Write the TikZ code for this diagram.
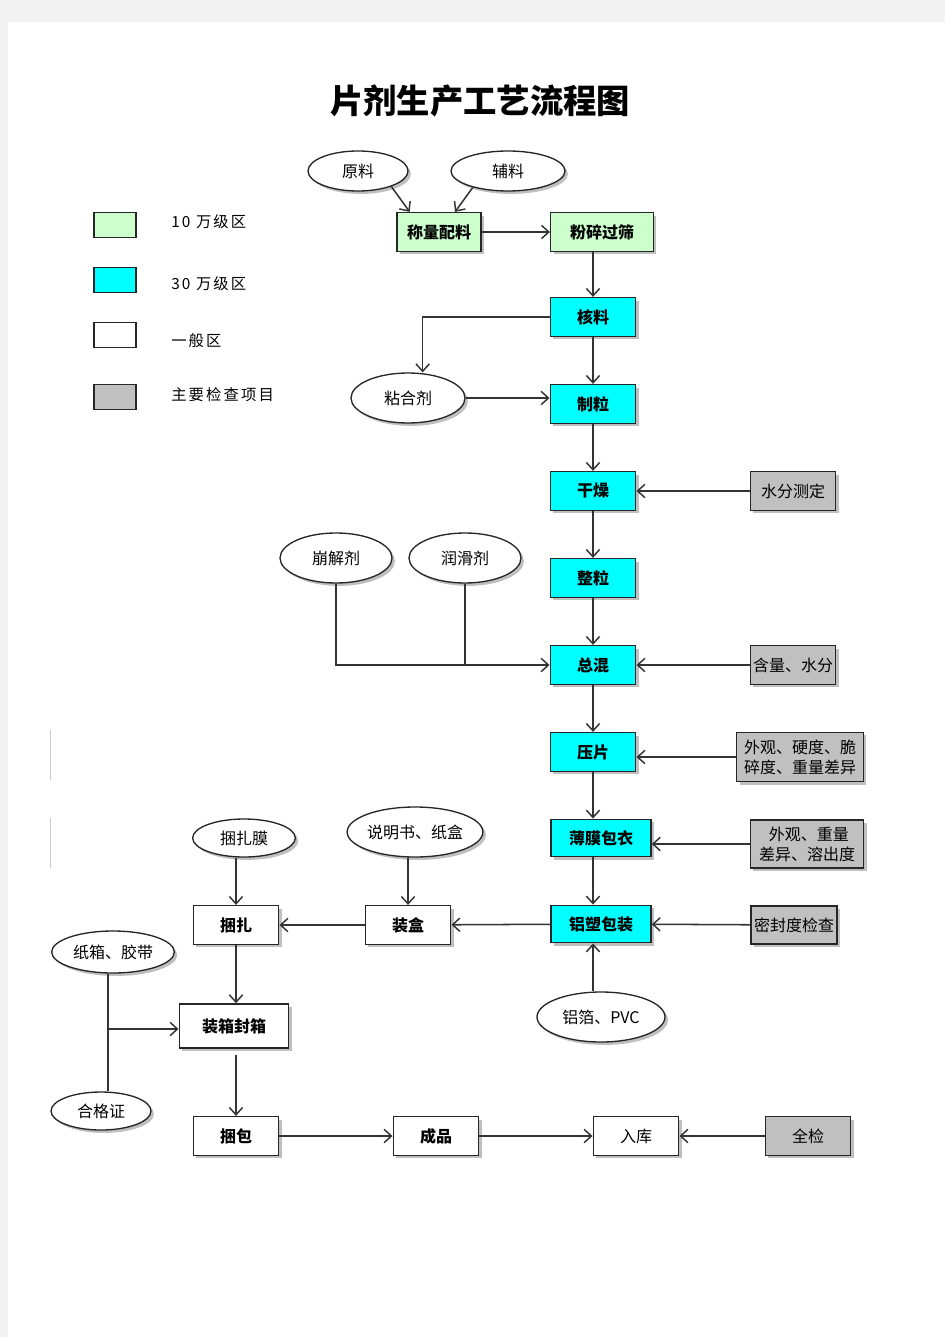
\documentclass[tikz,border=0pt]{standalone}
\usepackage{fontspec}
\setmainfont{Noto Sans CJK SC}
\newfontfamily\legendfont[LetterSpace=14]{Noto Sans CJK SC}
\usetikzlibrary{shapes.geometric,shadows,arrows.meta}
\definecolor{zone10}{HTML}{CCFFCC}
\definecolor{zone30}{HTML}{00FFFF}
\definecolor{checkgray}{HTML}{C0C0C0}
\tikzset{
  shade/.style={drop shadow={shadow xshift=2.2pt,shadow yshift=-2.2pt,fill=black!45,opacity=.55}},
  proc/.style={draw=black!85,line width=1.2pt,minimum width=64pt,minimum height=29pt,inner sep=1pt,shade,font=\bfseries\fontsize{12}{14}\selectfont},
  check/.style={proc,fill=checkgray,font=\fontsize{12}{15}\selectfont},
  mat/.style={ellipse,draw=black!85,line width=1pt,fill=white,inner sep=0pt,minimum width=84pt,minimum height=37.5pt,shade},
  legbox/.style={draw=black!85,line width=1.2pt,minimum width=31.5pt,minimum height=19pt,inner sep=0pt},
  leglabel/.style={anchor=west,inner sep=0pt,font=\legendfont\fontsize{11.5}{13}\selectfont},
  flow/.style={line width=1.15pt,draw=black!80,-{Straight Barb[length=5.5pt,width=10pt,line width=1.1pt]}}
}
\begin{document}
\begin{tikzpicture}[x=0.75pt,y=-0.75pt,font=\fontsize{12}{14}\selectfont]
\useasboundingbox (0,0) rectangle (945,1337);
\fill[black!5] (0,0) rectangle (945,1337);
\fill[white] (8,22) rectangle (945,1337);
\draw[black!20] (50,730) -- (50,780);
\draw[black!20] (50,818) -- (50,868);

\node[font=\bfseries\fontsize{25}{28}\selectfont] (title) at (480,101) {片剂生产工艺流程图};

\node[legbox,fill=zone10] (lg1) at (115,225) {};
\node[legbox,fill=zone30] (lg2) at (115,280) {};
\node[legbox,fill=white] (lg3) at (115,335) {};
\node[legbox,fill=checkgray] (lg4) at (115,397) {};
\node[leglabel] (lt1) at (171,222) {10 万级区};
\node[leglabel] (lt2) at (171,284) {30 万级区};
\node[leglabel] (lt3) at (171,341) {一般区};
\node[leglabel] (lt4) at (171,395) {主要检查项目};

\node[mat,minimum width=75pt,minimum height=30pt] (yuanliao) at (358,171) {原料};
\node[mat,minimum width=85.5pt,minimum height=30pt] (fuliao) at (508,171) {辅料};
\node[proc,fill=zone10,minimum width=63pt] (chengliang) at (439,232) {称量配料};
\node[proc,fill=zone10,minimum width=77pt] (fensui) at (602,232) {粉碎过筛};
\node[proc,fill=zone30] (hexin) at (593,317) {核料};
\node[mat,minimum width=85.5pt] (nianhe) at (408,398) {粘合剂};
\node[proc,fill=zone30] (zhili) at (593,404) {制粒};
\node[proc,fill=zone30] (ganzao) at (593,491) {干燥};
\node[check] (shuifen) at (793,491) {水分测定};
\node[mat] (benjie) at (336,558) {崩解剂};
\node[mat] (runhua) at (465,558) {润滑剂};
\node[proc,fill=zone30] (zhengli) at (593,578) {整粒};
\node[proc,fill=zone30] (zonghun) at (593,665) {总混};
\node[check] (hanliang) at (793,665) {含量、水分};
\node[proc,fill=zone30] (yapian) at (593,752) {压片};
\node[check,minimum width=95pt,minimum height=37pt,align=left] (waiguanA) at (800,757) {外观、硬度、脆\\碎度、重量差异};
\node[proc,fill=zone30,minimum width=75pt,minimum height=28pt] (bomo) at (601,838) {薄膜包衣};
\node[check,minimum width=85pt,minimum height=36pt,align=center] (waiguanB) at (807,844) {\ 外观、重量\\差异、溶出度};
\node[proc,fill=zone30,minimum width=75pt,minimum height=28pt] (lvsu) at (601,924) {铝塑包装};
\node[check,line width=1.6pt] (mifeng) at (794,925) {密封度检查};
\node[mat,minimum width=96pt] (lvbo) at (601,1017) {铝箔、PVC};
\node[mat,minimum width=96pt] (shuoming) at (415,832) {说明书、纸盒};
\node[proc,fill=white] (zhuanghe) at (408,925) {装盒};
\node[mat,minimum width=77pt,minimum height=28.5pt] (kunzamo) at (244,838) {捆扎膜};
\node[proc,fill=white] (kunza) at (236,925) {捆扎};
\node[mat,minimum width=92pt,minimum height=31.5pt] (zhixiang) at (113,952) {纸箱、胶带};
\node[proc,fill=white,minimum width=82pt,minimum height=33pt] (zhuangxiang) at (234,1026) {装箱封箱};
\node[mat,minimum width=75pt,minimum height=28.5pt] (hege) at (101,1111) {合格证};
\node[proc,fill=white] (kunbao) at (236,1136) {捆包};
\node[proc,fill=white] (chengpin) at (436,1136) {成品};
\node[proc,fill=white,font=\fontsize{12}{14}\selectfont] (ruku) at (636,1136) {入库};
\node[check] (quanjian) at (808,1136) {全检};
\coordinate (joint) at (108,1029);

\draw[flow] (yuanliao.-25) -- ([xshift=-22pt]chengliang.north);
\draw[flow] (fuliao.-155) -- ([xshift=12pt]chengliang.north);
\draw[flow] (chengliang) -- (fensui);
\draw[flow] (fensui.south -| hexin.north) -- (hexin.north);
\draw[flow] (hexin.west) -| ([xshift=11pt]nianhe.north);
\draw[flow] (hexin) -- (zhili);
\draw[flow] (nianhe.east) -- (nianhe.east -| zhili.west);
\draw[flow] (zhili) -- (ganzao);
\draw[flow] (shuifen) -- (ganzao);
\draw[flow] (ganzao) -- (zhengli);
\draw[flow] (zhengli) -- (zonghun);
\draw[flow] (benjie.south) |- (zonghun.west);
\draw[line width=1.15pt,black!80] (runhua.south) -- (runhua.south |- zonghun.west);
\draw[flow] (hanliang) -- (zonghun);
\draw[flow] (zonghun) -- (yapian);
\draw[flow] (waiguanA.west) -- (yapian.east |- waiguanA.west);
\draw[flow] (yapian.south) -- (yapian.south |- bomo.north);
\draw[flow] (waiguanB.west) -- (bomo.east |- waiguanB.west);
\draw[flow] (bomo.south -| yapian.south) -- (lvsu.north -| yapian.south);
\draw[flow] (mifeng) -- (lvsu);
\draw[flow] (lvbo.north -| yapian.south) -- (lvsu.south -| yapian.south);
\draw[flow] (lvsu) -- (zhuanghe);
\draw[flow] (shuoming.south -| zhuanghe.north) -- (zhuanghe.north);
\draw[flow] (zhuanghe) -- (kunza);
\draw[flow] (kunzamo.south -| kunza.north) -- (kunza.north);
\draw[flow] (kunza.south) -- (kunza.south |- zhuangxiang.north);
\draw[line width=1.15pt,black!80] (joint |- zhixiang.south) -- (joint |- hege.north);
\draw[flow] (joint) -- (joint -| zhuangxiang.west);
\draw[flow] ([yshift=-5pt]zhuangxiang.south -| kunbao.north) -- (kunbao.north);
\draw[flow] (kunbao) -- (chengpin);
\draw[flow] (chengpin) -- (ruku);
\draw[flow] (quanjian) -- (ruku);
\end{tikzpicture}
\end{document}
